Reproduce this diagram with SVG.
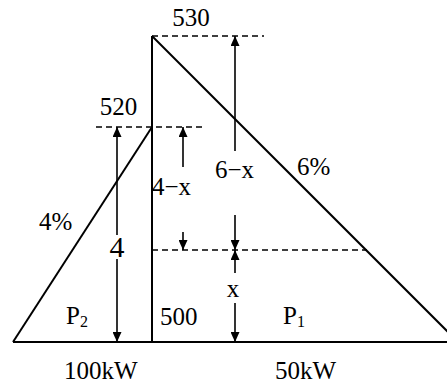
<svg xmlns="http://www.w3.org/2000/svg" width="447" height="385" viewBox="0 0 447 385">
<defs>
<style>
.main{stroke:#000;stroke-width:2;fill:none}
.dash{stroke:#000;stroke-width:1.6;stroke-dasharray:6 4;fill:none}
.arr{stroke:#000;stroke-width:1.6;fill:none;marker-end:url(#ah)}
text{font-family:"Liberation Serif","Times New Roman",serif;font-size:25px;fill:#000}
.mid{text-anchor:middle}
.sub{font-size:16px}
</style>
<marker id="ah" viewBox="0 0 10 9" refX="10" refY="4.5" markerWidth="10" markerHeight="9" markerUnits="userSpaceOnUse" orient="auto">
<path d="M0,0 L10,4.5 L0,9 z" fill="#000"/>
</marker>
</defs>
<rect width="447" height="385" fill="#fff"/>
<g id="shapes">
<line class="main" x1="13" y1="342" x2="447" y2="342"/>
<line class="main" x1="152" y1="36" x2="152" y2="342"/>
<line class="main" x1="13" y1="342" x2="152" y2="127"/>
<line class="main" x1="152" y1="36" x2="458" y2="342"/>
</g>
<g id="levels">
<line class="dash" x1="152" y1="36" x2="264" y2="36"/>
<line class="dash" x1="96" y1="127" x2="203" y2="127"/>
<line class="dash" x1="152" y1="250" x2="367" y2="250"/>
</g>
<g id="connectors">
<line class="arr" x1="117" y1="235" x2="117" y2="127"/>
<line class="arr" x1="117" y1="259" x2="117" y2="342"/>
<line class="arr" x1="183" y1="167" x2="183" y2="127"/>
<line class="arr" x1="183" y1="232" x2="183" y2="250"/>
<line class="arr" x1="235" y1="151" x2="235" y2="36"/>
<line class="arr" x1="235" y1="215" x2="235" y2="250"/>
<line class="arr" x1="235" y1="273" x2="235" y2="250"/>
<line class="arr" x1="235" y1="303" x2="235" y2="342"/>
</g>
<g id="labels">
<text class="mid" x="191" y="26">530</text>
<text class="mid" x="118.5" y="115">520</text>
<text x="152" y="195">4−x</text>
<text class="mid" x="234.5" y="178">6−x</text>
<text x="297" y="175">6%</text>
<text x="39" y="230">4%</text>
<text class="mid" x="117" y="257" style="font-size:30px">4</text>
<text class="mid" x="233" y="297">x</text>
<text x="66" y="324">P<tspan class="sub" dy="3">2</tspan></text>
<text x="283" y="324">P<tspan class="sub" dy="3">1</tspan></text>
<text x="160" y="325">500</text>
<text x="64" y="379">100kW</text>
<text x="275" y="379">50kW</text>
</g>
</svg>
